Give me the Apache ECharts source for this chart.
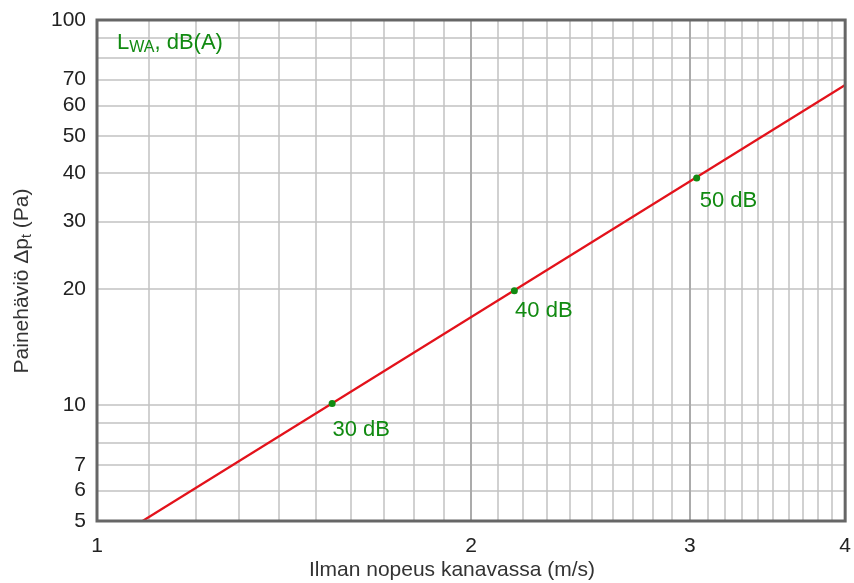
<!DOCTYPE html>
<html>
<head>
<meta charset="utf-8">
<script src="https://cdn.jsdelivr.net/npm/echarts@6/dist/echarts.min.js"></script>
<style>
html,body{margin:0;padding:0;background:#fff;}
#chart{width:854px;height:583px;}
</style>
</head>
<body>
<div id="chart"></div>
<script>
// ---- data ----
const xTickLabels = [1, 2, 3, 4];
const xMinorGrid = [1.1, 1.2, 1.3, 1.4, 1.5, 1.6, 1.7, 1.8, 1.9,
                    2.1, 2.2, 2.3, 2.4, 2.5, 2.6, 2.7, 2.8, 2.9,
                    3.1, 3.2, 3.3, 3.4, 3.5, 3.6, 3.7, 3.8, 3.9];
const xMajorGrid = [2, 3];
const yGrid = [6, 7, 8, 9, 10, 20, 30, 40, 50, 60, 70, 80, 90];
const yTickLabels = [5, 6, 7, 10, 20, 30, 40, 50, 60, 70, 100];
const curveX = [1.088, 4];
const curveY = [5, 67.8];
const pointX = [1.546, 2.167, 3.038];
const pointY = [10.1, 19.8, 38.9];
const pointLabels = ['30 dB', '40 dB', '50 dB'];

// ---- styling (label offsets relative to the marker box) ----
const labelOffsets = [[3.8, 18.6], [4.2, 12.8], [6.5, 15.5]];

const FONT = '"Liberation Sans", Arial, sans-serif';
const GREEN = '#118a11';
const fmt = v => String(+(+v).toPrecision(6));

const chart = echarts.init(document.getElementById('chart'), null, {renderer: 'canvas'});

const option = {
  animation: false,
  backgroundColor: '#fff',
  grid: {left: 97, top: 20, right: 7, bottom: 62, show: true,
         borderColor: '#666', borderWidth: 3, backgroundColor: 'transparent', z: 5},
  xAxis: [
    {
      type: 'log', logBase: 10, min: 1, max: 4, gridIndex: 0, position: 'bottom',
      axisLine: {show: false},
      axisTick: {show: false, customValues: xMinorGrid},
      splitLine: {show: true, lineStyle: {color: '#c2c2c2', width: 1.5}},
      axisLabel: {show: true, customValues: xTickLabels, formatter: fmt, margin: 15,
                  fontSize: 21, fontFamily: FONT, color: '#222'}
    },
    {
      type: 'log', logBase: 10, min: 1, max: 4, gridIndex: 0, position: 'bottom',
      axisLine: {show: false},
      axisTick: {show: false, customValues: xMajorGrid},
      splitLine: {show: true, lineStyle: {color: '#ababab', width: 2}},
      axisLabel: {show: false}
    }
  ],
  yAxis: [
    {
      type: 'log', logBase: 10, min: 5, max: 100, gridIndex: 0,
      axisLine: {show: false},
      axisTick: {show: false, customValues: yGrid},
      splitLine: {show: true, lineStyle: {color: '#c2c2c2', width: 1.5}},
      axisLabel: {show: true, customValues: yTickLabels, formatter: fmt, margin: 11,
                  fontSize: 21, fontFamily: FONT, color: '#222'}
    }
  ],
  series: [
    {
      type: 'line', xAxisIndex: 0, yAxisIndex: 0,
      data: curveX.map((x, i) => [x, curveY[i]]),
      showSymbol: false, symbol: 'none',
      lineStyle: {color: '#e3121b', width: 2.2},
      z: 3, silent: true
    },
    {
      type: 'scatter', xAxisIndex: 0, yAxisIndex: 0,
      symbolSize: 7,
      itemStyle: {color: GREEN, opacity: 1},
      data: pointX.map((x, i) => ({
        value: [x, pointY[i]],
        label: {
          show: true, formatter: pointLabels[i],
          position: labelOffsets[i], align: 'left', verticalAlign: 'top',
          fontSize: 22, fontFamily: FONT, color: GREEN, opacity: 1
        }
      })),
      z: 4, silent: true
    }
  ],
  graphic: [
    {
      type: 'text', x: 117, y: 44, z: 10,
      style: {
        text: '{m|L}{s|WA}{m|, dB(A)}',
        verticalAlign: 'middle', align: 'left',
        rich: {
          m: {fontSize: 22, fontFamily: FONT, fill: GREEN, color: GREEN, verticalAlign: 'bottom', padding: [0, 0, 2, 0]},
          s: {fontSize: 16, fontFamily: FONT, fill: GREEN, color: GREEN, verticalAlign: 'bottom'}
        }
      }
    },
    {
      type: 'text', x: 452, y: 570, z: 10,
      style: {
        text: 'Ilman nopeus kanavassa (m/s)',
        fontSize: 21, fontFamily: FONT, fill: '#333',
        align: 'center', verticalAlign: 'middle'
      }
    },
    {
      type: 'text', x: 23, y: 281, rotation: Math.PI / 2, z: 10,
      style: {
        text: '{m|Painehäviö Δp}{s|t}{m| (Pa)}',
        align: 'center', verticalAlign: 'middle',
        rich: {
          m: {fontSize: 21, fontFamily: FONT, fill: '#333', color: '#333', verticalAlign: 'bottom', padding: [0, 0, 2, 0]},
          s: {fontSize: 14, fontFamily: FONT, fill: '#333', color: '#333', verticalAlign: 'bottom'}
        }
      }
    }
  ]
};
chart.setOption(option);
</script>
</body>
</html>
